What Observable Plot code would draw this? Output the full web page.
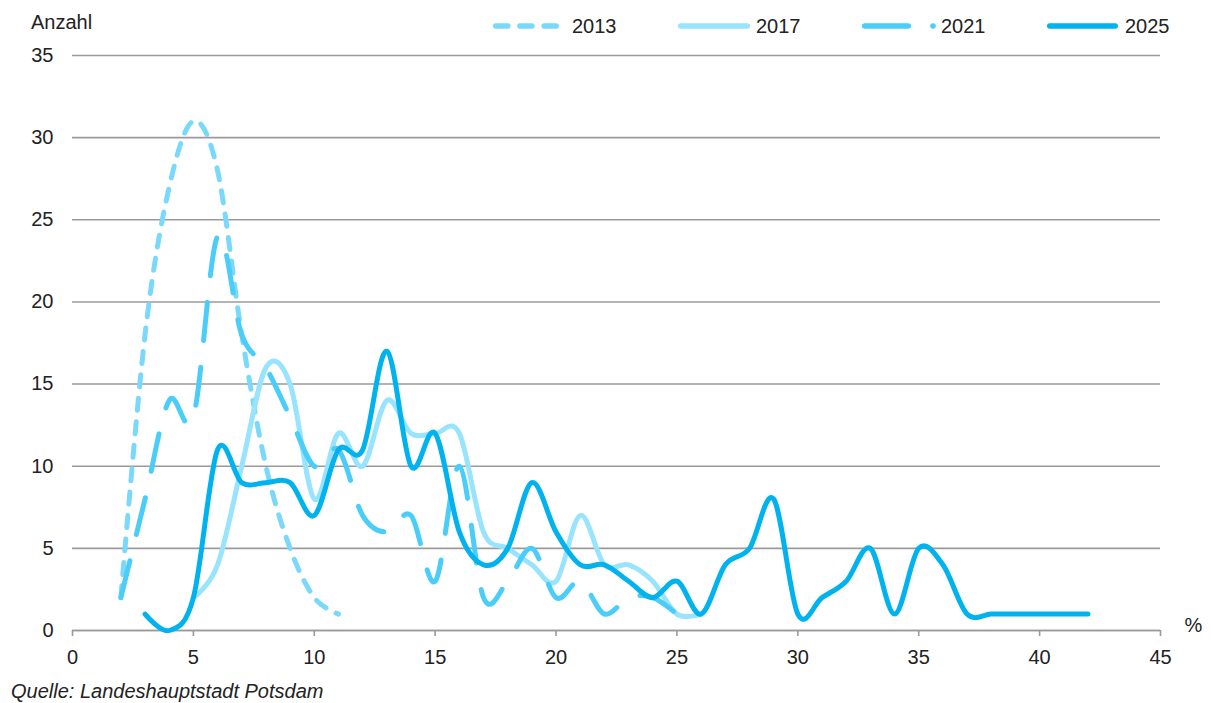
<!DOCTYPE html>
<html>
<head>
<meta charset="utf-8">
<script src="https://cdn.jsdelivr.net/npm/d3@7"></script>
<script src="https://cdn.jsdelivr.net/npm/@observablehq/plot@0.6"></script>
<style>
  body { margin: 0; background: #fff; }
  #wrap { position: relative; width: 1213px; height: 703px; font-family: "Liberation Sans", Arial, sans-serif; color: #222; }
  .txt { position: absolute; font-size: 20px; line-height: 20px; white-space: nowrap; }
  #chart { position: absolute; left: 0; top: 45px; }
  .sw { position: absolute; top: 16px; }
</style>
</head>
<body>
<div id="wrap">
  <div class="txt" style="left:31px; top:12px;">Anzahl</div>
  <div id="legend"></div>
  <div id="chart"></div>
  <div class="txt" style="left:11px; top:681px; font-style:italic;">Quelle: Landeshauptstadt Potsdam</div>
</div>
<script>
// ---- data ----
const years = ["2013", "2017", "2021", "2025"];
const colors = ["#7ad9fb", "#98e3fd", "#4acdf8", "#00b2ee"];

const pct2013 = [2, 3, 4, 5, 6, 7, 8, 9, 10, 11];
const cnt2013 = [2, 18, 27, 31, 28, 18, 10, 5, 2, 1];

const pct2017 = [5, 6, 7, 8, 9, 10, 11, 12, 13, 14, 15, 16, 17, 18, 19, 20, 21, 22, 23, 24, 25, 26];
const cnt2017 = [2, 4, 10, 16, 15, 8, 12, 10, 14, 12, 12, 12, 6, 5, 4, 3, 7, 4, 4, 3, 1, 1];

const pct2021 = [2, 3, 4, 5, 6, 7, 8, 9, 10, 11, 12, 13, 14, 15, 16, 17, 18, 19, 20, 21, 22, 23, 24, 25];
const cnt2021 = [2, 8, 14, 13, 24, 18, 16, 13, 10, 11, 7, 6, 7, 3, 10, 2, 3, 5, 2, 3, 1, 2, 2, 1];

const pct2025 = [3, 4, 5, 6, 7, 8, 9, 10, 11, 12, 13, 14, 15, 16, 17, 18, 19, 20, 21, 22, 23, 24, 25, 26, 27, 28, 29, 30, 31, 32, 33, 34, 35, 36, 37, 38, 39, 40, 41, 42];
const cnt2025 = [1, 0, 2, 11, 9, 9, 9, 7, 11, 11, 17, 10, 12, 6, 4, 5, 9, 6, 4, 4, 3, 2, 3, 1, 4, 5, 8, 1, 2, 3, 5, 1, 5, 4, 1, 1, 1, 1, 1, 1];

const xTicks = [0, 5, 10, 15, 20, 25, 30, 35, 40, 45];
const yTicks = [0, 5, 10, 15, 20, 25, 30, 35];
const xUnit = "%";

// ---- build tables ----
const toRows = (xs, ys) => xs.map((p, i) => ({pct: p, count: ys[i]}));
const series = [
  {rows: toRows(pct2013, cnt2013), dash: "12,11.5"},
  {rows: toRows(pct2017, cnt2017), dash: null},
  {rows: toRows(pct2021, cnt2021), dash: "38,27"},
  {rows: toRows(pct2025, cnt2025), dash: null}
];

const lineMarks = series.map((s, i) => Plot.line(s.rows, {
  x: "pct", y: "count", curve: "cardinal",
  stroke: colors[i], strokeWidth: 5,
  strokeDasharray: s.dash || undefined,
  strokeLinecap: "round", strokeLinejoin: "round"
}));

const chart = Plot.plot({
  width: 1213,
  height: 630,
  marginLeft: 72,
  marginRight: 53,
  marginTop: 10,
  marginBottom: 45,
  style: {fontFamily: "'Liberation Sans', Arial, sans-serif", fontSize: "20px", color: "#222", background: "#fff", overflow: "visible"},
  x: {domain: [0, 45]},
  y: {domain: [0, 35]},
  marks: [
    Plot.gridY(yTicks, {stroke: "#9a9a9a", strokeOpacity: 1, strokeWidth: 1.6}),
    Plot.ruleY([0], {stroke: "#9a9a9a", strokeWidth: 1.6}),
    Plot.axisY(yTicks, {tickSize: 0, tickPadding: 19, label: null, fill: "#222", fontSize: 20}),
    Plot.axisX(xTicks, {tickSize: 6, tickPadding: 13, label: null, stroke: "#9a9a9a", strokeWidth: 1.6, fill: "#222", fontSize: 20}),
    ...lineMarks,
    Plot.text([xUnit], {x: 45, y: 0, text: d => d, dx: 33, dy: -5, fill: "#222", fontSize: 20})
  ]
});
document.getElementById("chart").appendChild(chart);

// ---- legend ----
const legendPos = [
  {x0: 493, x1: 559, tx: 572},
  {x0: 678, x1: 750, tx: 756},
  {x0: 862, x1: 911, tx: 941, dot: 933},
  {x0: 1047, x1: 1118, tx: 1125}
];
const legend = document.getElementById("legend");
years.forEach((yr, i) => {
  const p = legendPos[i];
  const svgNS = "http://www.w3.org/2000/svg";
  const sv = document.createElementNS(svgNS, "svg");
  sv.setAttribute("class", "sw");
  sv.setAttribute("width", 120);
  sv.setAttribute("height", 20);
  sv.style.left = (p.x0 - 5) + "px";
  const ln = document.createElementNS(svgNS, "line");
  ln.setAttribute("x1", 7.75);
  ln.setAttribute("x2", p.x1 - p.x0 + 2.25);
  ln.setAttribute("y1", 10);
  ln.setAttribute("y2", 10);
  ln.setAttribute("stroke", colors[i]);
  ln.setAttribute("stroke-width", 5.5);
  ln.setAttribute("stroke-linecap", "round");
  if (i === 0) ln.setAttribute("stroke-dasharray", "12,12.2");
  sv.appendChild(ln);
  if (p.dot) {
    const c = document.createElementNS(svgNS, "circle");
    c.setAttribute("cx", p.dot - p.x0 + 5);
    c.setAttribute("cy", 10);
    c.setAttribute("r", 2.8);
    c.setAttribute("fill", colors[i]);
    sv.appendChild(c);
  }
  legend.appendChild(sv);
  const t = document.createElement("div");
  t.className = "txt";
  t.style.left = p.tx + "px";
  t.style.top = "16px";
  t.textContent = yr;
  legend.appendChild(t);
});
</script>
</body>
</html>
